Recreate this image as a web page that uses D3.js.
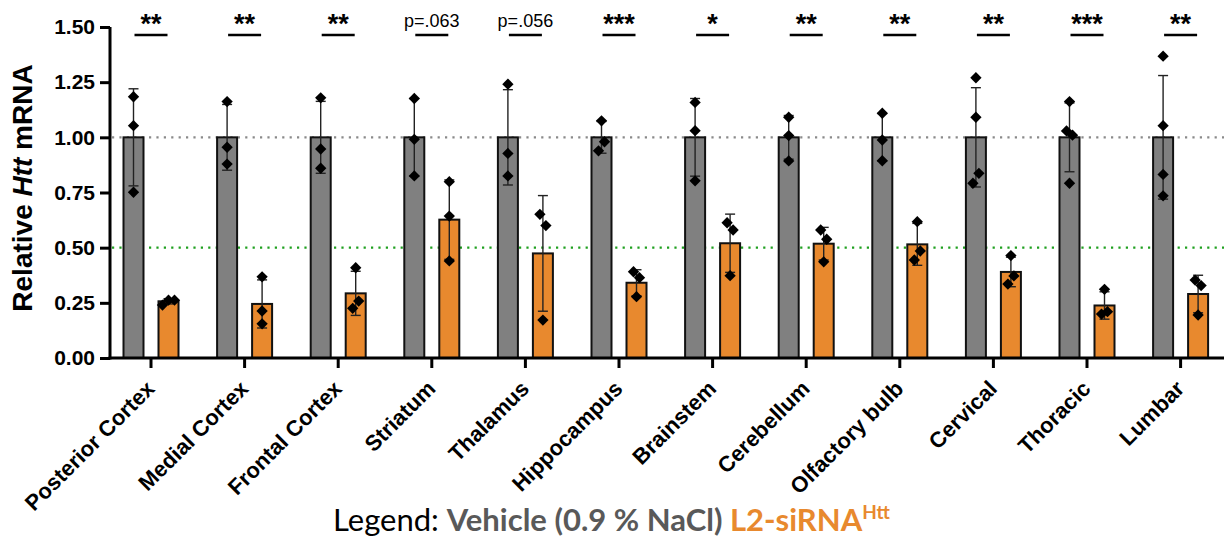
<!DOCTYPE html>
<html>
<head>
<meta charset="utf-8">
<script src="https://cdn.jsdelivr.net/npm/d3@7"></script>
<style>
  body { margin: 0; background: #fff; }
  svg { display: block; font-family: "Liberation Sans", Arial, sans-serif; }
</style>
</head>
<body>
<div id="chart"></div>
<script>
const regions = ['Posterior Cortex', 'Medial Cortex', 'Frontal Cortex', 'Striatum', 'Thalamus',
  'Hippocampus', 'Brainstem', 'Cerebellum', 'Olfactory bulb', 'Cervical', 'Thoracic', 'Lumbar'];

const vehicleMean = [1, 1, 1, 1, 1, 1, 1, 1, 1, 1, 1, 1];
const vehicleSD = [0.22, 0.149, 0.163, 0.176, 0.216, 0.072, 0.176, 0.099, 0.108, 0.225, 0.156, 0.28];
const vehiclePoints = [
  [1.184, 1.053, 0.751],
  [1.162, 0.955, 0.879],
  [1.179, 0.947, 0.860],
  [1.176, 0.991, 0.825],
  [1.241, 0.927, 0.825],
  [1.075, 0.939, 0.980],
  [1.158, 1.030, 0.803],
  [1.091, 1.008, 0.893],
  [1.109, 0.988, 0.894],
  [1.270, 1.091, 0.792, 0.837],
  [1.162, 1.029, 1.010, 0.792],
  [1.368, 1.053, 0.832, 0.735]
];

const sirnaMean = [0.257, 0.245, 0.293, 0.627, 0.474, 0.341, 0.52, 0.518, 0.515, 0.39, 0.238, 0.29];
const sirnaSD = [0.012, 0.109, 0.1, 0.18, 0.262, 0.059, 0.132, 0.074, 0.095, 0.067, 0.062, 0.085];
const sirnaPoints = [
  [0.240, 0.262, 0.262],
  [0.368, 0.213, 0.155],
  [0.409, 0.225, 0.258],
  [0.799, 0.643, 0.440],
  [0.651, 0.600, 0.172],
  [0.391, 0.364, 0.278],
  [0.613, 0.580, 0.373],
  [0.580, 0.538, 0.436],
  [0.618, 0.444, 0.485],
  [0.464, 0.335, 0.372],
  [0.311, 0.199, 0.210],
  [0.353, 0.328, 0.195]
];

const significance = ['**', '**', '**', 'p=.063', 'p=.056', '***', '*', '**', '**', '**', '***', '**'];
const yTicks = [0, 0.25, 0.5, 0.75, 1, 1.25, 1.5];
const refLines = [{ v: 1, color: '#8a8a8a' }, { v: 0.5, color: '#1fa01f' }];

const groups = ['vehicle', 'sirna'];
const colors = { vehicle: '#808080', sirna: '#e8892e' };

const W = 1228, H = 540;
const svg = d3.select('#chart').append('svg').attr('width', W).attr('height', H);

const x = d3.scaleBand().domain(regions).range([104.2, 1227.4]);
const xs = d3.scalePoint().domain(groups).range([-17.5, 17.5]);
const y = d3.scaleLinear().domain([0, 1.5]).range([358, 27]);
const cx = r => x(r) + x.bandwidth() / 2;

const rows = regions.map((r, i) => [
  { region: r, g: 'vehicle', mean: vehicleMean[i], sd: vehicleSD[i], pts: vehiclePoints[i] },
  { region: r, g: 'sirna', mean: sirnaMean[i], sd: sirnaSD[i], pts: sirnaPoints[i] }
]).flat();

// dotted reference lines (behind bars)
svg.append('g').selectAll('line').data(refLines).join('line')
  .attr('x1', 112).attr('x2', 1224)
  .attr('y1', d => y(d.v)).attr('y2', d => y(d.v))
  .attr('stroke', d => d.color).attr('stroke-width', 2.2)
  .attr('stroke-dasharray', '2.2,5.2');

// bars
const barW = 20;
svg.append('g').selectAll('rect').data(rows).join('rect')
  .attr('x', d => cx(d.region) + xs(d.g) - barW / 2)
  .attr('width', barW)
  .attr('y', d => y(d.mean))
  .attr('height', d => y(0) - y(d.mean))
  .attr('fill', d => colors[d.g])
  .attr('stroke', '#111').attr('stroke-width', 2);

// error bars
const eb = svg.append('g').attr('stroke', '#222').attr('stroke-width', 1.4);
rows.forEach(d => {
  const px = cx(d.region) + xs(d.g);
  const y1 = y(d.mean + d.sd), y2 = y(d.mean - d.sd);
  eb.append('line').attr('x1', px).attr('x2', px).attr('y1', y1).attr('y2', y2);
  eb.append('line').attr('x1', px - 5).attr('x2', px + 5).attr('y1', y1).attr('y2', y1);
  eb.append('line').attr('x1', px - 5).attr('x2', px + 5).attr('y1', y2).attr('y2', y2);
});

// scatter points, spread sideways when they would overlap
const dodgePx = 12, spread = 6;
const pts = [];
rows.forEach(d => {
  const base = cx(d.region) + xs(d.g);
  const items = d.pts.map((v, k) => ({ v, k, py: y(v) }));
  const sorted = items.slice().sort((a, b) => a.py - b.py);
  const clusters = [];
  sorted.forEach(p => {
    const last = clusters[clusters.length - 1];
    if (last && p.py - last[last.length - 1].py < dodgePx) last.push(p);
    else clusters.push([p]);
  });
  clusters.forEach(c => {
    c.sort((a, b) => a.k - b.k);
    c.forEach((p, j) => {
      pts.push({ x: base + (j - (c.length - 1) / 2) * spread, y: p.py });
    });
  });
});
svg.append('g').selectAll('path').data(pts).join('path')
  .attr('d', d3.symbol().type(d3.symbolSquare).size(64))
  .attr('transform', d => `translate(${d.x},${d.y}) rotate(45)`)
  .attr('fill', '#000');

// axes
const yAxis = svg.append('g').attr('transform', 'translate(110,0)')
  .call(d3.axisLeft(y).tickValues(yTicks).tickFormat(d3.format('.2f')).tickSize(10).tickSizeOuter(0).tickPadding(5));
yAxis.select('.domain').attr('stroke', '#000').attr('stroke-width', 3).attr('d', 'M0,' + (y(0) + 1.5) + 'V' + (y(1.5)));
yAxis.selectAll('.tick line').attr('stroke', '#000').attr('stroke-width', 3);
yAxis.selectAll('.tick text').attr('fill', '#000').attr('font-size', 21).attr('font-weight', 'bold')
  .attr('font-family', '"Liberation Sans", Arial, sans-serif');

const xAxis = svg.append('g').attr('transform', `translate(0,${y(0)})`)
  .call(d3.axisBottom(x).tickSize(10).tickSizeOuter(0).tickFormat(''));
xAxis.select('.domain').attr('stroke', '#000').attr('stroke-width', 3).attr('d', 'M108.5,0H1224');
xAxis.selectAll('.tick line').attr('stroke', '#000').attr('stroke-width', 3);

// rotated category labels
svg.append('g').selectAll('text').data(regions).join('text')
  .attr('transform', r => `translate(${cx(r) + 5},${390}) rotate(-45)`)
  .attr('text-anchor', 'end')
  .attr('font-size', 22).attr('font-weight', 'bold').attr('fill', '#000')
  .text(r => r);

// y title
const yt = svg.append('text')
  .attr('transform', 'translate(32,188) rotate(-90)')
  .attr('text-anchor', 'middle')
  .attr('font-size', 28).attr('font-weight', 'bold').attr('fill', '#000');
yt.append('tspan').text('Relative ');
yt.append('tspan').attr('font-style', 'italic').text('Htt');
yt.append('tspan').text(' mRNA');

// significance bars
const sig = svg.append('g');
regions.forEach((r, i) => {
  const c = cx(r);
  sig.append('line').attr('x1', c - 16.5).attr('x2', c + 16.5).attr('y1', 35).attr('y2', 35)
    .attr('stroke', '#000').attr('stroke-width', 2.4);
  const isP = significance[i].startsWith('p');
  sig.append('text').attr('x', c).attr('y', isP ? 27 : 33)
    .attr('text-anchor', 'middle')
    .attr('font-size', isP ? 18 : 27)
    .attr('font-weight', isP ? 'normal' : 'bold')
    .attr('fill', '#000')
    .text(significance[i]);
});

// legend
const lg = svg.append('text').attr('x', 333).attr('y', 531)
  .attr('font-family', 'Lato, "Open Sans", sans-serif').attr('font-size', 31);
lg.append('tspan').attr('fill', '#000').text('Legend: ');
lg.append('tspan').attr('fill', '#595959').attr('font-weight', 'bold').text('Vehicle (0.9 % NaCl) ');
lg.append('tspan').attr('fill', '#e8892e').attr('font-weight', 'bold').text('L2-siRNA');
lg.append('tspan').attr('fill', '#e8892e').attr('font-weight', 'bold').attr('font-size', 19).attr('dy', -12).text('Htt');
</script>
</body>
</html>
